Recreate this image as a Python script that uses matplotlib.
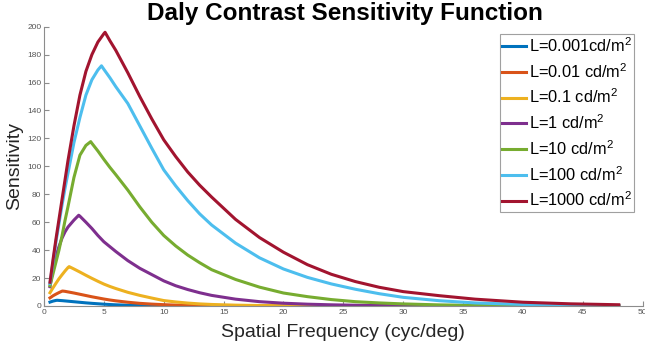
import matplotlib
matplotlib.use("Agg")
import matplotlib.pyplot as plt
import numpy as np

plt.rcParams['font.family'] = ['Liberation Sans', 'DejaVu Sans']
plt.rcParams['mathtext.fontset'] = 'custom'
plt.rcParams['mathtext.rm'] = 'Liberation Sans'
plt.rcParams['mathtext.it'] = 'Liberation Sans'

# values (spatial frequency in cyc/deg)
freq = [0.5, 0.75, 1, 1.25, 1.5, 1.75, 2, 2.5, 3, 3.5, 4, 4.5, 5, 5.5, 6, 7, 8, 9,
        10, 11, 12, 13, 14, 16, 18, 20, 22, 24, 26, 28, 30, 33, 36, 40, 44, 48]

s_0001 = [2.8, 3.5, 4.0, 4.0, 3.85, 3.65, 3.45, 3.05, 2.65, 2.25, 1.9, 1.6, 1.3, 1.05, 0.85, 0.55, 0.35, 0.22,
          0.14, 0.09, 0.06, 0.04, 0.02, 0.01, 0, 0, 0, 0, 0, 0, 0, 0, 0, 0, 0, 0]
s_001 = [5.8, 7.3, 8.5, 9.6, 10.6, 10.5, 10.1, 9.3, 8.4, 7.5, 6.6, 5.8, 5.0, 4.3, 3.7, 2.7, 1.9, 1.35,
         0.95, 0.65, 0.45, 0.3, 0.2, 0.09, 0.04, 0.02, 0, 0, 0, 0, 0, 0, 0, 0, 0, 0]
s_01 = [9.5, 13, 16.3, 19.5, 22.3, 25, 27.5, 26.5, 24.3, 22, 19.8, 17.7, 15.7, 14, 12.5, 9.8, 7.6, 5.7,
        3.9, 2.9, 2.1, 1.5, 1.1, 0.6, 0.33, 0.18, 0.1, 0.06, 0.03, 0.01, 0, 0, 0, 0, 0, 0]
s_1 = [13.8, 27, 36, 42.5, 48.5, 53, 56.5, 61.5, 64.3, 60, 55.5, 50.5, 46, 42.5, 39, 32.5, 27, 22.5,
       18, 14.5, 11.8, 9.5, 7.6, 4.9, 3.1, 2.0, 1.3, 0.85, 0.55, 0.35, 0.22, 0.12, 0.06, 0.03, 0.01, 0]
s_10 = [14.5, 23, 31.5, 40, 50, 61, 71, 92, 108, 115, 116.5, 111, 105, 99.3, 94, 83, 71, 60,
        50.5, 43, 36.5, 31, 26, 19, 13.5, 9.3, 6.7, 4.6, 3.1, 2.2, 1.5, 0.8, 0.45, 0.2, 0.1, 0.05]
s_100 = [16, 31, 46, 59, 72, 84, 95, 117, 135, 151, 162, 169, 169.5, 163.5, 157, 145, 129, 113,
         97.5, 86, 75.5, 66, 58, 45, 34.5, 26.5, 20.5, 15.8, 12, 8.8, 6.2, 3.8, 2.2, 1.1, 0.55, 0.3]
s_1000 = [17, 33, 48, 62, 76, 90, 104, 129, 151, 168, 180, 189, 195, 190, 183, 167, 150, 134,
          119, 107, 96, 86.5, 78, 62, 49, 38.5, 29.6, 22.7, 17.5, 13.4, 10.3, 7.4, 4.9, 2.7, 1.55, 0.9]

# peak of each curve (sharp corner)
peak_freq = [1.1, 1.55, 2.1, 2.9, 3.9, 4.8, 5.1]
peak_sens = [4.1, 10.7, 28.2, 65.0, 117.7, 172, 196]

labels = [r'L=0.001cd/m$^2$', r'L=0.01 cd/m$^2$', r'L=0.1 cd/m$^2$', r'L=1 cd/m$^2$',
          r'L=10 cd/m$^2$', r'L=100 cd/m$^2$', r'L=1000 cd/m$^2$']
colors = ['#0072BD', '#D95319', '#EDB120', '#7E2F8E', '#77AC30', '#4DBEEE', '#A2142F']
series = [s_0001, s_001, s_01, s_1, s_10, s_100, s_1000]

fig = plt.figure(figsize=(6.45, 3.53), dpi=100)
ax = fig.add_axes([44/645, 1-306/353, 598.7/645, 279.3/353])

for s, pf, ps, c, lab in zip(series, peak_freq, peak_sens, colors, labels):
    x = np.array(freq + [pf])
    y = np.array(s + [ps])
    o = np.argsort(x)
    ax.plot(x[o], y[o], color=c, lw=2.2, label=lab, solid_joinstyle='round')

ax.set_xlim(0, 50)
ax.set_ylim(0, 200)
ax.set_xticks(np.arange(0, 51, 5))
ax.set_yticks(np.arange(0, 201, 20))
for side in ['top', 'right']:
    ax.spines[side].set_visible(False)
for side in ['left', 'bottom']:
    ax.spines[side].set_color('#8c8c8c')
    ax.spines[side].set_linewidth(0.8)
ax.tick_params(direction='in', length=3.5, width=0.8, color='#8c8c8c',
               labelsize=6, labelcolor='#555555', pad=2)

ax.set_xlabel('Spatial Frequency (cyc/deg)', fontsize=14, color='#262626', labelpad=6)
ax.set_ylabel('Sensitivity', fontsize=14, color='#262626', labelpad=3)
fig.text(345/645, 1-20/353, 'Daly Contrast Sensitivity Function', fontsize=17.5,
         fontweight='bold', ha='center', va='baseline')

leg = ax.legend(loc='upper right', bbox_to_anchor=(634/645, 1-34/353),
                bbox_transform=fig.transFigure, borderaxespad=0, fontsize=11.8,
                handlelength=1.46, handletextpad=0.14, labelspacing=0.43,
                borderpad=0.14, fancybox=False, framealpha=1)
leg.get_frame().set_edgecolor('#a0a0a0')
leg.get_frame().set_linewidth(0.8)

fig.savefig('out.png', dpi=100)
